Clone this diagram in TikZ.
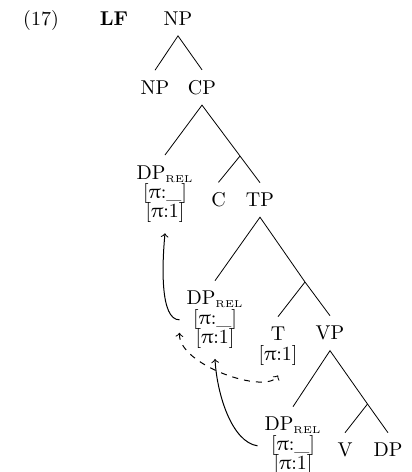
\documentclass[tikz,border=0pt]{standalone}
\usepackage{fontspec}
\setmainfont{Latin Modern Roman}
\usepackage{upgreek}
\newcommand{\relsub}{\textsubscript{\fontsize{5}{6}\selectfont REL}}
\begin{document}
\begin{tikzpicture}[x=0.5pt,y=-0.5pt,
  lbl/.style={inner xsep=3.33pt, inner ysep=5pt, anchor=base},
  stk/.style={inner xsep=3.33pt, inner ysep=5pt, align=center, anchor=north},
  branch/.style={line width=0.4pt},
  mv/.style={->, line width=0.5pt},
  agr/.style={<->, dashed, line width=0.5pt}]
\useasboundingbox (0,0) rectangle (412,472);
% labels
\node[lbl] (ex) at (41,25.5) {(17)};
\node[lbl, font=\bfseries] (lf) at (114,25.5) {LF};
\node[lbl] (np0) at (178,25.5) {NP};
\node[lbl] (np1) at (155,94.3) {NP};
\node[lbl] (cp) at (202,94.3) {CP};
\node[stk] (dp1) at (165,155) {DP\relsub\\[-2.3pt]{[}$\uppi$:\_{]}\\[-2.3pt]{[}$\uppi$:1{]}};
\coordinate (cbar) at (240,156);
\node[lbl] (c) at (218.5,206.8) {C};
\node[lbl] (tp) at (260,206.8) {TP};
\node[stk] (dp2) at (215,280.7) {DP\relsub\\[-2.3pt]{[}$\uppi$:\_{]}\\[-2.3pt]{[}$\uppi$:1{]}};
\coordinate (tbar) at (305,282);
\node[stk] (t) at (278,316.7) {T\\[-2.3pt]{[}$\uppi$:1{]}};
\node[lbl] (vp) at (330,339.8) {VP};
\node[stk] (dp3) at (293,406.7) {DP\relsub\\[-2.3pt]{[}$\uppi$:\_{]}\\[-2.3pt]{[}$\uppi$:1{]}};
\coordinate (vbar) at (367.5,404);
\node[lbl] (v) at (345,456.8) {V};
\node[lbl] (dp) at (388,456.8) {DP};
% branches
\draw[branch] (np1.north) -- (np0.south) -- (cp.north);
\draw[branch] (dp1.north) -- (cp.south) -- (cbar) -- (tp.north);
\draw[branch] (cbar) -- (c.north);
\draw[branch] (dp2.north) -- (tp.south) -- (tbar) -- (vp.north);
\draw[branch] (tbar) -- (t.north);
\draw[branch] (dp3.north) -- (vp.south) -- (vbar) -- (dp.north);
\draw[branch] (vbar) -- (v.north);
% movement and agreement
\draw[mv] (dp2.west) .. controls (160,320) and (162,265) .. (dp1.south);
\draw[mv] (dp3.west) .. controls (232,442) and (217,395) .. (dp2.south);
\draw[agr] (dp2.200) .. controls (178,365) and (266,395) .. (t.south);
\end{tikzpicture}
\end{document}
